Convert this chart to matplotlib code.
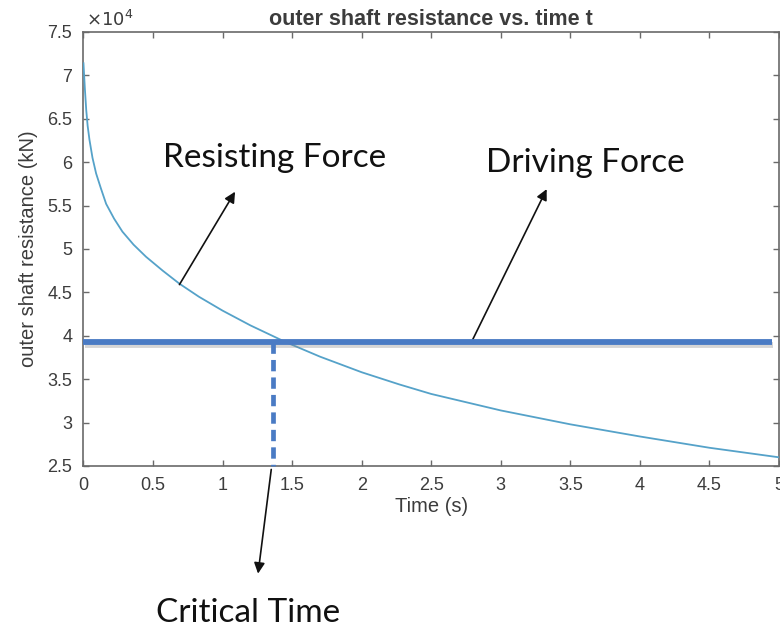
import matplotlib
matplotlib.use("Agg")
import matplotlib.pyplot as plt
import matplotlib.patheffects as pe
from matplotlib.ticker import FuncFormatter

plt.rcParams["font.family"] = ["Liberation Sans", "DejaVu Sans"]

# outer shaft resistance (kN)
time_s = [0.0, 0.01, 0.02, 0.03, 0.043, 0.065, 0.091, 0.125, 0.163, 0.22, 0.28, 0.36,
          0.45, 0.57, 0.69, 0.83, 1.0, 1.2, 1.45, 1.7, 2.0, 2.27, 2.5,
          3.0, 3.5, 4.0, 4.5, 5.0]
resistance_kN = [71400, 68500, 66000, 64200, 62600, 60500, 58700, 57000, 55200, 53500, 52000, 50500,
                 49100, 47500, 46000, 44500, 42900, 41200, 39300, 37600, 35800, 34400, 33300,
                 31400, 29800, 28400, 27100, 26000]

driving_force_kN = 39300
critical_time = 1.36
driving_end = 4.95

x_ticks = [0, 0.5, 1, 1.5, 2, 2.5, 3, 3.5, 4, 4.5, 5]
y_ticks = [25000, 30000, 35000, 40000, 45000, 50000, 55000, 60000, 65000, 70000, 75000]

curve_color = "#55a2c9"
force_color = "#4a7bc4"
axis_gray = "#6a6a6a"
label_gray = "#3c3c3c"
note_font = "Lato"

fig = plt.figure(figsize=(7.8, 6.31), dpi=100)
ax = fig.add_axes([0.107, 0.2615, 0.8917, 0.6878])

ax.plot(time_s, resistance_kN, color=curve_color, linewidth=1.3, zorder=3)

# driving force level with a soft drop shadow
ax.plot([0, driving_end], [driving_force_kN, driving_force_kN], color=force_color,
        linewidth=4.2, solid_capstyle="butt", zorder=4,
        path_effects=[pe.SimpleLineShadow(offset=(0.8, -2.0), shadow_color="#888888", alpha=0.35),
                      pe.Normal()])

# critical time marker down to the time axis
ax.plot([critical_time, critical_time], [driving_force_kN, 25000], color=force_color,
        linewidth=3.4, linestyle=(0, (2.4, 1.3)), zorder=4, clip_on=False)

ax.set_xlim(0, 5)
ax.set_ylim(25000, 75000)
ax.set_xticks(x_ticks)
ax.set_yticks(y_ticks)
ax.xaxis.set_major_formatter(FuncFormatter(lambda v, p: f"{v:g}"))
ax.yaxis.set_major_formatter(FuncFormatter(lambda v, p: f"{v / 1e4:g}"))
ax.tick_params(direction="in", length=4, width=1, colors=axis_gray, labelcolor=label_gray,
               labelsize=13, top=True, right=True)
ax.tick_params(axis="y", pad=8)
ax.tick_params(axis="x", pad=8)
for s in ax.spines.values():
    s.set_color(axis_gray)
    s.set_linewidth(1.2)

ax.text(0.003, 1.004, r"$\times10^4$", transform=ax.transAxes, fontsize=13, color=label_gray,
        ha="left", va="bottom")
ax.set_title("outer shaft resistance vs. time t", fontsize=15.5, color=label_gray,
             fontweight="bold", pad=5)
ax.set_xlabel("Time (s)", fontsize=14.5, color=label_gray, labelpad=2)
ax.set_ylabel("outer shaft resistance (kN)", fontsize=14.5, color=label_gray, labelpad=7)

arrow = dict(arrowstyle="-|>", color="#111111", lw=1.2, mutation_scale=16, shrinkA=0, shrinkB=0)
ax.annotate("", xy=(1.09, 56600), xytext=(0.69, 45900), arrowprops=arrow, annotation_clip=False)
ax.annotate("", xy=(3.33, 56900), xytext=(2.79, 39300), arrowprops=arrow, annotation_clip=False)
ax.annotate("", xy=(1.255, 12600), xytext=(1.35, 24600), arrowprops=arrow, annotation_clip=False)

ax.text(1.374, 59450, "Resisting Force", fontsize=24, family=note_font, color="#111111",
        ha="center", va="baseline")
ax.text(3.61, 58870, "Driving Force", fontsize=24, family=note_font, color="#111111",
        ha="center", va="baseline")
ax.text(1.18, 7030, "Critical Time", fontsize=24, family=note_font, color="#111111",
        ha="center", va="baseline", clip_on=False)

fig.savefig("out.png", dpi=100)
